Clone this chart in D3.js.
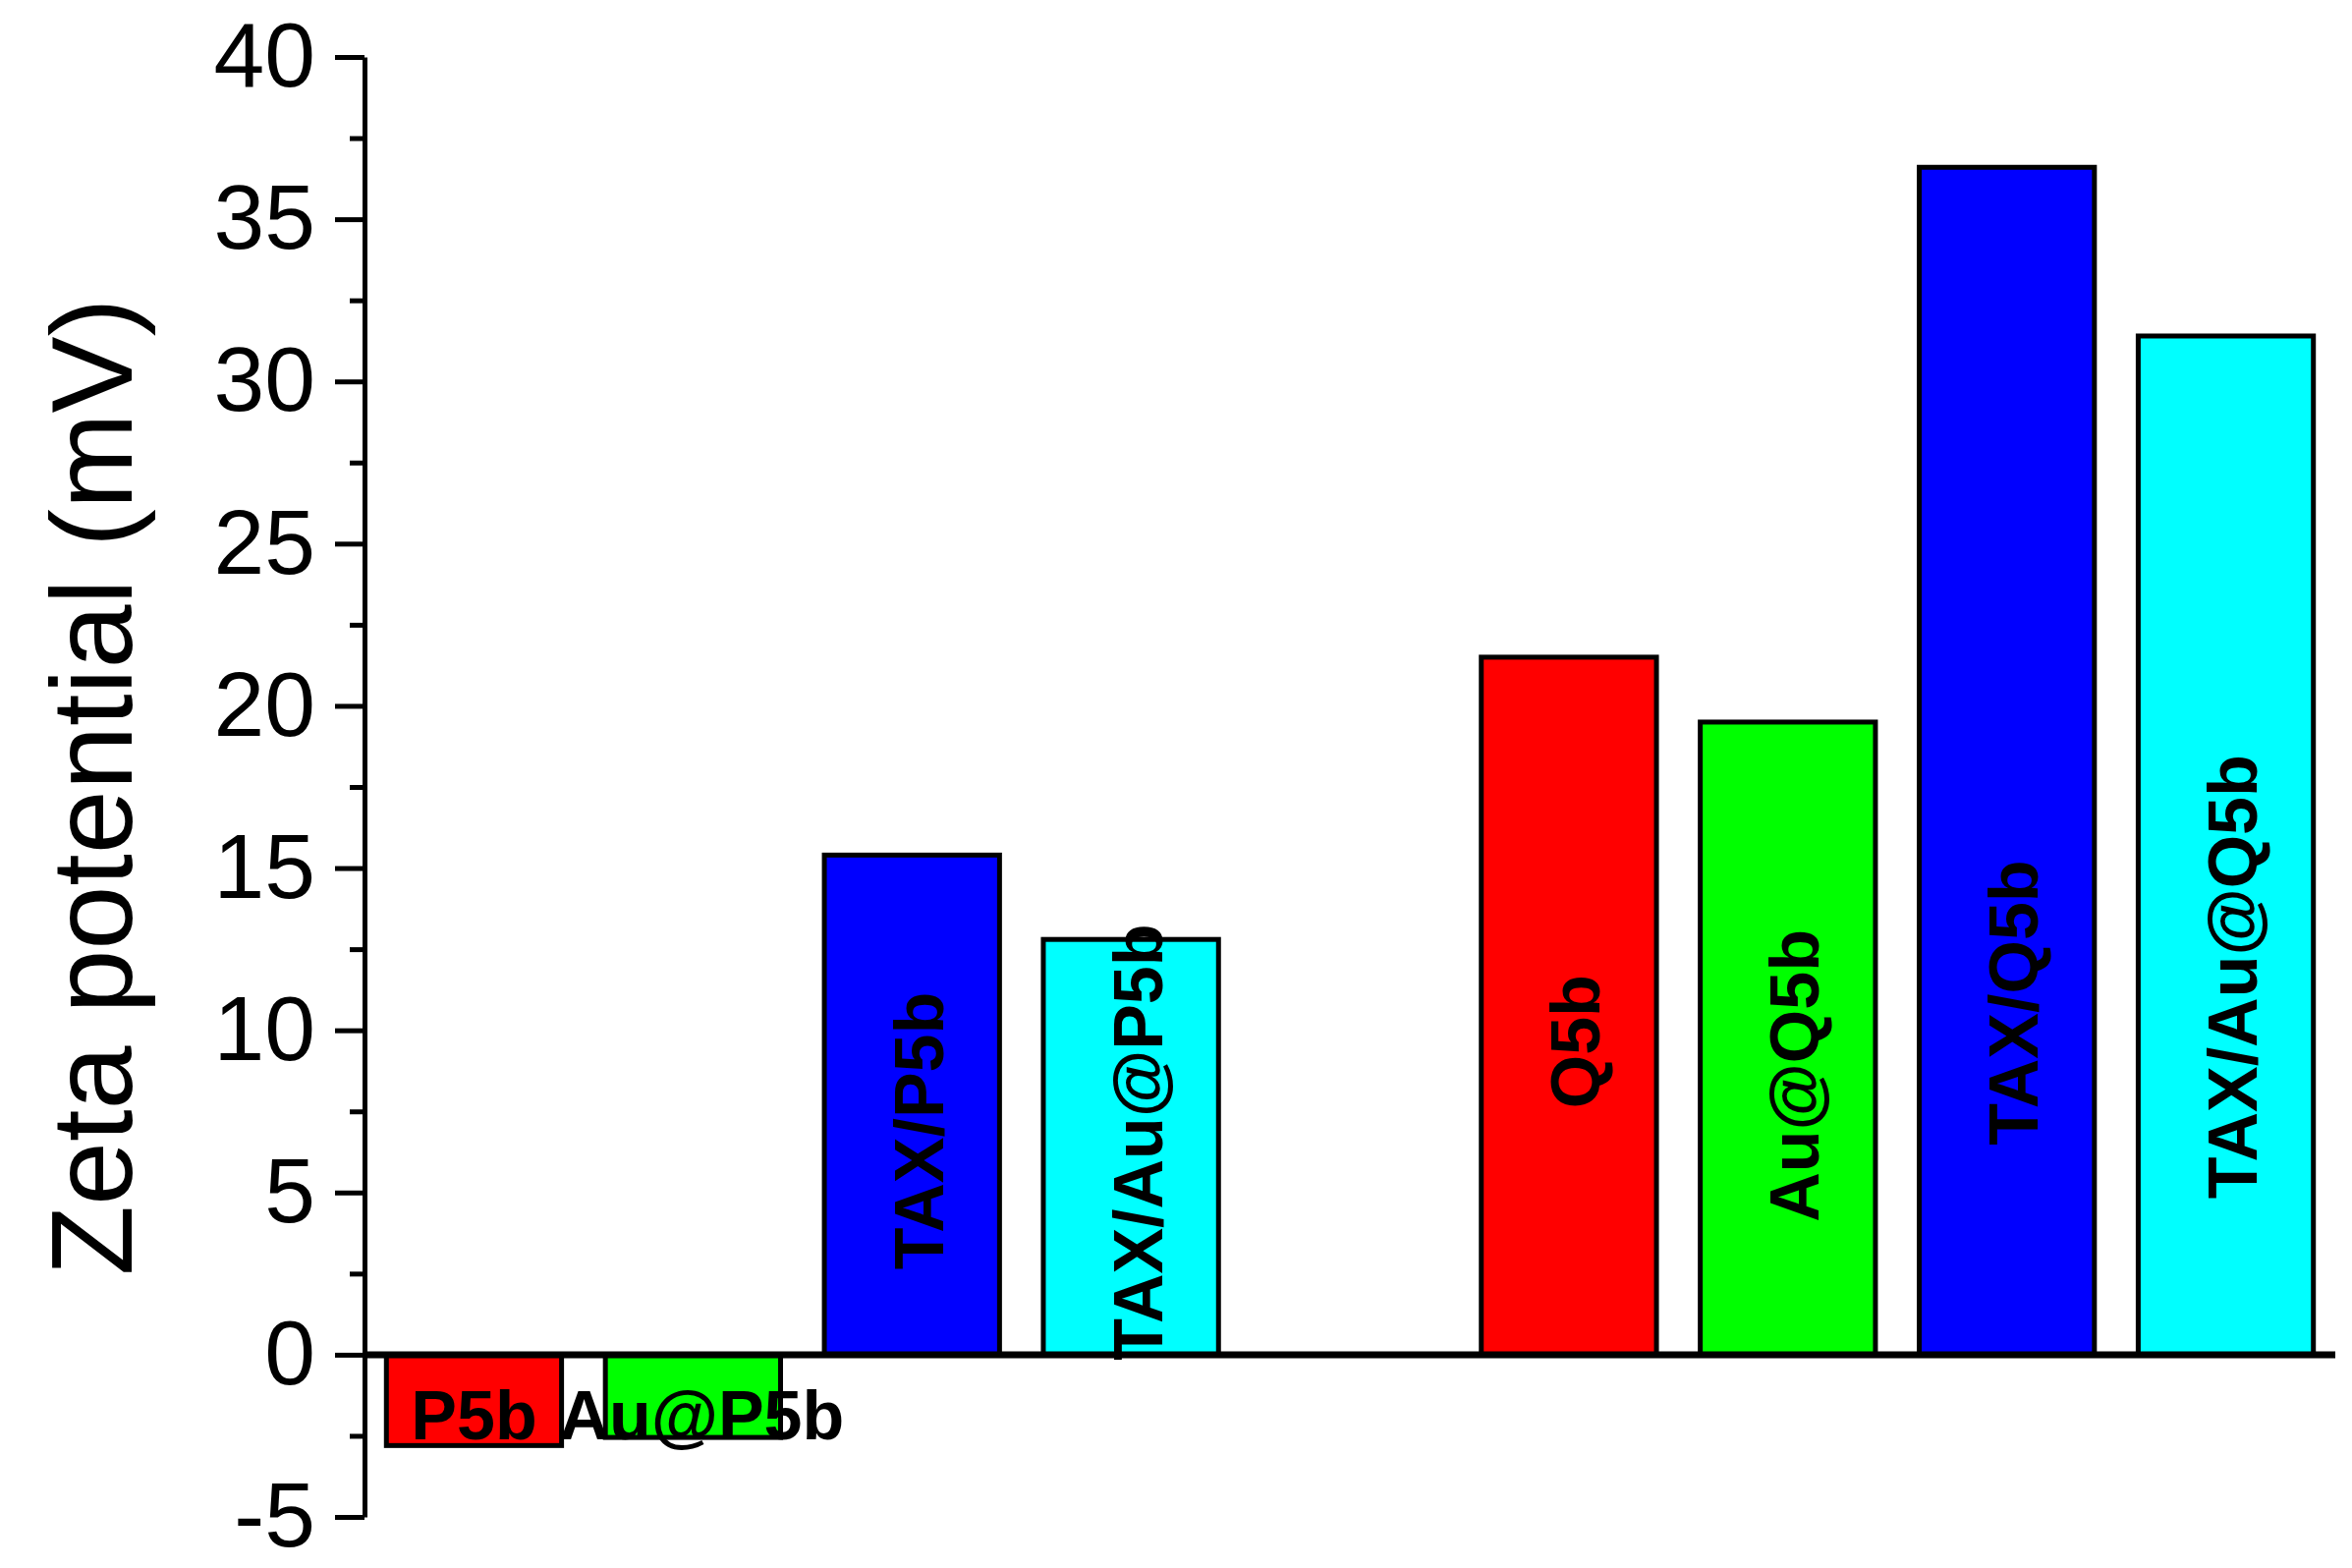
<!DOCTYPE html>
<html>
<head>
<meta charset="utf-8">
<script src="https://cdn.jsdelivr.net/npm/d3@7"></script>
<style>
  body { margin: 0; background: #fff; }
  svg { display: block; font-family: "Liberation Sans", Arial, sans-serif; }
</style>
</head>
<body>
<div id="grafico"></div>
<script>
// Data
const categories = ["P5b", "Au@P5b", "TAX/P5b", "TAX/Au@P5b", "Q5b", "Au@Q5b", "TAX/Q5b", "TAX/Au@Q5b"];
const slots = [1, 2, 3, 4, 6, 7, 8, 9]; // slot 5 is the empty gap between the groups
const zeta = [-2.8, -2.55, 15.4, 12.8, 21.5, 19.5, 36.6, 31.4];
const colors = ["#ff0000", "#00ff00", "#0000ff", "#00ffff", "#ff0000", "#00ff00", "#0000ff", "#00ffff"];
const labelAt = [-2.6, -2.6, 6.9, 6.55, 9.65, 8.6, 10.85, 11.65]; // mV, where each label sits
const majorTicks = [-5, 0, 5, 10, 15, 20, 25, 30, 35, 40];
const minorTicks = [-2.5, 2.5, 7.5, 12.5, 17.5, 22.5, 27.5, 32.5, 37.5];
const yTitle = "Zeta potential (mV)";

const width = 2394;
const height = 1596;
const axisX = 371;
const plotRight = 2377;
const yTop = 58;
const yBottom = 1544;

const x = d3.scaleLinear().domain([0.5, 9.5]).range([axisX, plotRight]);
const y = d3.scaleLinear().domain([-5, 40]).range([yBottom, yTop]);
const barW = (x(2) - x(1)) * 0.8;

const svg = d3.select("#grafico")
  .append("svg")
  .attr("width", width)
  .attr("height", height);

const rows = categories.map((c, i) => ({ name: c, slot: slots[i], v: zeta[i], color: colors[i], at: labelAt[i] }));

// Bars
svg.append("g")
  .selectAll("rect")
  .data(rows)
  .join("rect")
  .attr("x", d => x(d.slot) - barW / 2)
  .attr("width", barW)
  .attr("y", d => y(Math.max(0, d.v)))
  .attr("height", d => Math.abs(y(d.v) - y(0)))
  .attr("fill", d => d.color)
  .attr("stroke", "#000")
  .attr("stroke-width", 5);

// Zero line
svg.append("line")
  .attr("x1", axisX)
  .attr("x2", plotRight)
  .attr("y1", y(0))
  .attr("y2", y(0))
  .attr("stroke", "#000")
  .attr("stroke-width", 7);

// Y axis, major and minor ticks
const yAxis = d3.axisLeft(y)
  .tickValues(majorTicks)
  .tickFormat(d => String(d)) // plain hyphen for -5
  .tickSize(30)
  .tickSizeOuter(0)
  .tickPadding(20);
const gy = svg.append("g")
  .attr("transform", `translate(${axisX},0)`)
  .call(yAxis);
gy.select(".domain").attr("stroke-width", 5);
gy.selectAll(".tick line").attr("stroke-width", 5);
gy.selectAll(".tick text")
  .attr("font-size", 93)
  .attr("font-family", "Liberation Sans, Arial, sans-serif")
  .attr("fill", "#000");

const gMinor = svg.append("g")
  .attr("transform", `translate(${axisX},0)`)
  .call(d3.axisLeft(y).tickValues(minorTicks).tickSize(15).tickSizeOuter(0).tickFormat(""));
gMinor.select(".domain").remove();
gMinor.selectAll(".tick line").attr("stroke-width", 5);

// Y title
svg.append("text")
  .attr("transform", `translate(134,${(yTop + yBottom) / 2}) rotate(-90)`)
  .attr("text-anchor", "middle")
  .attr("font-size", 117)
  .attr("fill", "#000")
  .text(yTitle);

// Bar labels
svg.append("g")
  .selectAll("text")
  .data(rows)
  .join("text")
  .attr("text-anchor", "middle")
  .attr("font-size", 70)
  .attr("font-weight", "bold")
  .attr("fill", "#000")
  .attr("transform", d => d.v < 0
    ? `translate(${x(d.slot)},${y(d.at)})`
    : `translate(${x(d.slot)},${y(d.at)}) rotate(-90)`)
  .attr("dx", d => d.name === "Au@P5b" ? 9 : 0)
  .attr("dy", d => d.v < 0 ? 0 : "0.45em")
  .text(d => d.name);
</script>
</body>
</html>
